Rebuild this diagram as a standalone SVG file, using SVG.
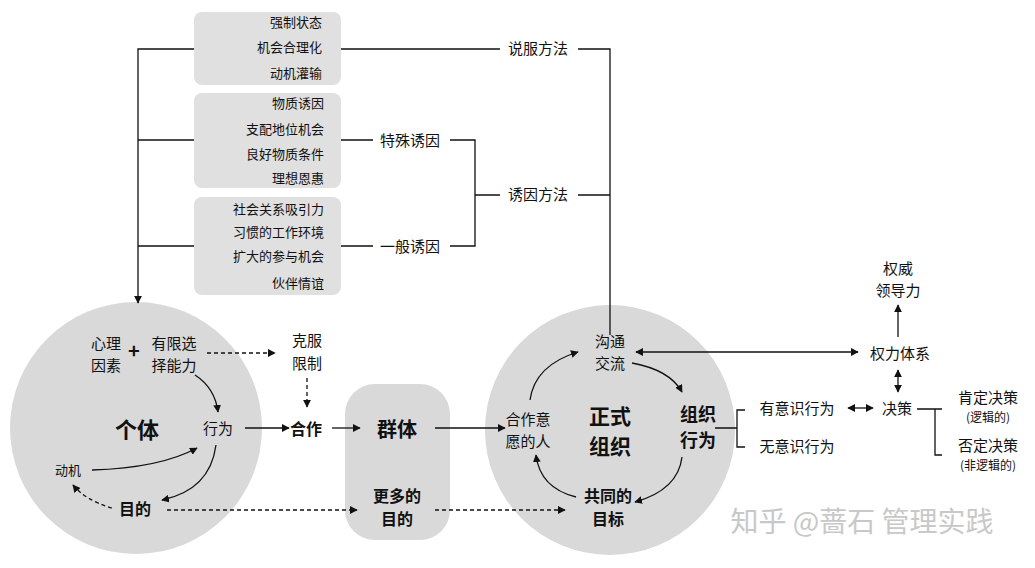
<svg xmlns="http://www.w3.org/2000/svg" width="1035" height="568" viewBox="0 0 1035 568">
<style>
text{font-family:"Noto Sans CJK SC","Liberation Sans",sans-serif;fill:#111}
.s{font-size:13px}.m{font-size:15px;text-anchor:middle}.b{font-size:16px;font-weight:bold;text-anchor:middle}
.r{text-anchor:end}.sm{font-size:12px;text-anchor:middle}
.l{stroke:#111;stroke-width:1.3;fill:none}.d{stroke-dasharray:4 3}
.box{fill:#e0e0e0}
</style>
<defs><marker id="a" viewBox="0 0 10 10" refX="9" refY="5" markerWidth="6" markerHeight="6" orient="auto-start-reverse"><path d="M0,0L10,5L0,10z" fill="#111"/></marker></defs>
<rect width="1035" height="568" fill="#fff"/>
<g id="boxes">
<rect class="box" x="194" y="12" width="147" height="73" rx="8"/>
<rect class="box" x="194" y="93" width="147" height="95" rx="8"/>
<rect class="box" x="194" y="197" width="147" height="98" rx="8"/>
<text class="s r" x="322" y="27">强制状态</text><text class="s r" x="322" y="52">机会合理化</text><text class="s r" x="322" y="78">动机灌输</text>
<text class="s r" x="324" y="108">物质诱因</text><text class="s r" x="324" y="134">支配地位机会</text><text class="s r" x="324" y="159">良好物质条件</text><text class="s r" x="324" y="183">理想恩惠</text>
<text class="s r" x="324" y="214">社会关系吸引力</text><text class="s r" x="324" y="237">习惯的工作环境</text><text class="s r" x="324" y="261">扩大的参与机会</text><text class="s r" x="324" y="288">伙伴情谊</text>
</g>
<g id="circles">
<circle cx="136" cy="428" r="126" fill="#d9d9d9"/>
<rect x="345" y="384" width="105" height="156" rx="30" fill="#d9d9d9"/>
<circle cx="610" cy="430" r="125" fill="#d9d9d9"/>
</g>
<g id="connectors">
<path class="l" d="M194,49H138V303" marker-end="url(#a)"/>
<path class="l" d="M194,140H138M194,246H138"/>
<path class="l" d="M341,49H500M578,49H610V335"/>
<path class="l" d="M341,140H373M341,246H373M450,140H475V246H450M475,195H500M578,195H610"/>
<path class="l" d="M245,428H289" marker-end="url(#a)"/>
<path class="l" d="M332,428H360" marker-end="url(#a)"/>
<path class="l" d="M435,428H505" marker-end="url(#a)"/>
<path class="l d" d="M167,510H357" marker-end="url(#a)"/>
<path class="l d" d="M435,510H565" marker-end="url(#a)"/>
<path class="l d" d="M207,353H275" marker-end="url(#a)"/>
<path class="l d" d="M307,378V407" marker-end="url(#a)"/>
<path class="l" d="M195,375Q215,388 218,412" marker-end="url(#a)"/>
<path class="l" d="M92,470Q160,468 197,448" marker-end="url(#a)"/>
<path class="l" d="M216,445Q210,490 162,500" marker-end="url(#a)"/>
<path class="l d" d="M112,508Q85,500 73,485" marker-end="url(#a)"/>
<path class="l" d="M530,400Q535,365 578,352" marker-end="url(#a)"/>
<path class="l" d="M632,363Q670,370 682,392" marker-end="url(#a)"/>
<path class="l" d="M682,457Q678,490 635,502" marker-end="url(#a)"/>
<path class="l" d="M576,497Q540,488 536,455" marker-end="url(#a)"/>
<path class="l" d="M636,352H858" marker-start="url(#a)" marker-end="url(#a)"/>
<path class="l" d="M898,337V305" marker-end="url(#a)"/>
<path class="l" d="M898,370V392" marker-start="url(#a)" marker-end="url(#a)"/>
<path class="l" d="M848,408H873" marker-start="url(#a)" marker-end="url(#a)"/>
<path class="l" d="M715,428H737M745,410H737V447H745"/>
<path class="l" d="M917,409H935M942,409H935V455H942"/>
</g>
<g id="labels">
<text class="m" x="538" y="54">说服方法</text>
<text class="m" x="410" y="146">特殊诱因</text>
<text class="m" x="538" y="200">诱因方法</text>
<text class="m" x="410" y="252">一般诱因</text>
<text class="m" x="106" y="349">心理</text><text class="m" x="106" y="371">因素</text>
<text x="134" y="358" style="font-size:20px;font-weight:bold;text-anchor:middle">+</text>
<text class="m" x="174" y="349">有限选</text><text class="m" x="174" y="371">择能力</text>
<text x="137" y="438" style="font-size:22px;font-weight:bold;text-anchor:middle">个体</text>
<text class="m" x="218" y="434">行为</text>
<text class="s" x="55" y="475">动机</text>
<text class="b" x="135" y="515">目的</text>
<text class="m" x="307" y="346">克服</text><text class="m" x="307" y="369">限制</text>
<text class="b" x="306" y="435">合作</text>
<text x="397" y="437" style="font-size:20px;font-weight:bold;text-anchor:middle">群体</text>
<text class="b" x="397" y="502">更多的</text><text class="b" x="397" y="525">目的</text>
<text class="m" x="610" y="347">沟通</text><text class="m" x="610" y="369">交流</text>
<text class="m" x="528" y="425">合作意</text><text class="m" x="528" y="447">愿的人</text>
<text x="610" y="424" style="font-size:21px;font-weight:bold;text-anchor:middle">正式</text>
<text x="610" y="454" style="font-size:21px;font-weight:bold;text-anchor:middle">组织</text>
<text x="698" y="421" style="font-size:18px;font-weight:bold;text-anchor:middle">组织</text>
<text x="698" y="447" style="font-size:18px;font-weight:bold;text-anchor:middle">行为</text>
<text class="b" x="608" y="502">共同的</text><text class="b" x="608" y="525">目标</text>
<text class="m" x="898" y="274">权威</text><text class="m" x="898" y="296">领导力</text>
<text class="m" x="900" y="359">权力体系</text>
<text class="m" x="897" y="414">决策</text>
<text class="m" x="797" y="414">有意识行为</text>
<text class="m" x="797" y="452">无意识行为</text>
<text class="m" x="988" y="403">肯定决策</text><text class="sm" x="988" y="422">(逻辑的)</text>
<text class="m" x="988" y="451">否定决策</text><text class="sm" x="988" y="470">(非逻辑的)</text>
<text x="862" y="532" style="font-size:28px;fill:#c8c8c8;text-anchor:middle">知乎 @蔷石 管理实践</text>
</g>
</svg>
